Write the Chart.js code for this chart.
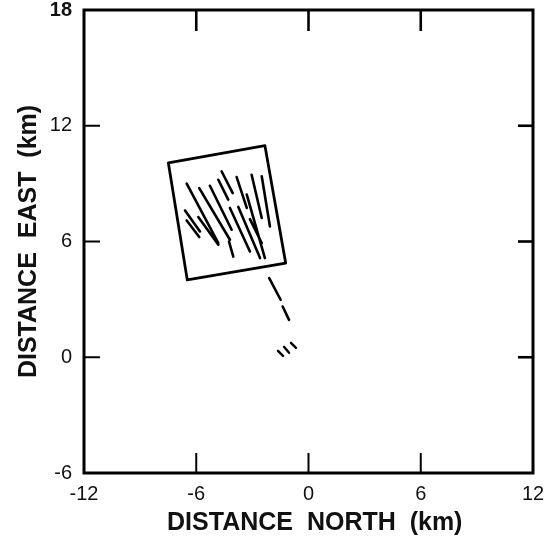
<!DOCTYPE html>
<html>
<head>
<meta charset="utf-8">
<script src="https://cdn.jsdelivr.net/npm/chart.js@4.4.1/dist/chart.umd.min.js"></script>
<style>
  html, body { margin: 0; padding: 0; background: #fff; }
  #wrap { width: 544px; height: 539px; }
</style>
</head>
<body>
<div id="wrap"><canvas id="c" width="544" height="539"></canvas></div>
<script>
// Axis ticks (km)
const xTickValues = [-12, -6, 0, 6, 12];
const yTickValues = [-6, 0, 6, 12, 18];
// Interior tick marks drawn on the frame
const innerTickX = [-6, 0, 6];
const innerTickY = [0, 6, 12];

// Outline of the mapped block (north, east), closed
const boxCorners = [
  [-7.49, 10.07], [-2.33, 10.97], [-1.22, 4.88], [-6.48, 4.01], [-7.49, 10.07]
];

// Lineations inside the block: [x1, y1, x2, y2]
const strokeSegments = [
  [-6.51, 9.00, -4.82, 5.92],
  [-5.84, 8.77, -4.20, 6.09],
  [-5.27, 8.89, -4.11, 6.61],
  [-4.82, 9.20, -4.29, 8.17],
  [-4.64, 9.63, -4.05, 8.51],
  [-3.84, 9.34, -3.30, 7.74],
  [-3.04, 9.46, -2.50, 7.22],
  [-2.50, 9.38, -2.06, 6.78],
  [-6.60, 7.61, -5.80, 6.52],
  [-6.51, 7.09, -5.84, 6.23],
  [-5.89, 7.27, -4.82, 5.83],
  [-4.20, 7.74, -3.13, 5.48],
  [-3.75, 7.79, -2.59, 5.14],
  [-3.30, 8.43, -2.33, 5.14],
  [-3.13, 7.16, -2.50, 5.92],
  [-4.25, 6.00, -4.02, 5.22]
];

// Dashed track south of the block
const trackSegments = [
  [-2.10, 4.10, -1.49, 2.98],
  [-1.38, 2.63, -1.04, 1.94]
];

// Short marks near the origin
const originMarks = [
  [-1.63, 0.33, -1.36, 0.07],
  [-1.31, 0.54, -1.04, 0.23],
  [-0.94, 0.75, -0.67, 0.49]
];

function segmentsToPoints(segs) {
  const pts = [];
  segs.forEach(s => {
    pts.push({ x: s[0], y: s[1] }, { x: s[2], y: s[3] }, { x: NaN, y: NaN });
  });
  return pts;
}

const lineStyle = {
  showLine: true,
  borderColor: '#000',
  pointRadius: 0,
  pointHoverRadius: 0,
  spanGaps: false,
  tension: 0,
  borderCapStyle: 'round',
  borderJoinStyle: 'round'
};

const FONT = "'Liberation Sans', Arial, Helvetica, sans-serif";

const framePlugin = {
  id: 'frame',
  afterDatasetsDraw(chart) {
    const { ctx, chartArea: a, scales } = chart;
    const xs = scales.x, ys = scales.y;
    ctx.save();
    ctx.strokeStyle = '#000';
    ctx.lineCap = 'butt';
    ctx.lineWidth = 3;
    ctx.strokeRect(a.left, a.top, a.right - a.left, a.bottom - a.top);
    const seg = (x1, y1, x2, y2, w) => {
      ctx.lineWidth = w;
      ctx.beginPath(); ctx.moveTo(x1, y1); ctx.lineTo(x2, y2); ctx.stroke();
    };
    innerTickX.forEach(v => {
      const px = xs.getPixelForValue(v);
      seg(px, a.bottom, px, a.bottom - 20, 2);
      seg(px, a.top, px, a.top + 21, 2.6);
    });
    innerTickY.forEach(v => {
      const py = ys.getPixelForValue(v);
      seg(a.left, py, a.left + 16, py, 2);
      seg(a.right, py, a.right - 15, py, 2.6);
    });
    ctx.restore();
  }
};

new Chart(document.getElementById('c'), {
  type: 'scatter',
  data: {
    datasets: [
      Object.assign({ label: 'block', data: boxCorners.map(p => ({ x: p[0], y: p[1] })), borderWidth: 2.8 }, lineStyle),
      Object.assign({ label: 'lineations', data: segmentsToPoints(strokeSegments), borderWidth: 2.6 }, lineStyle),
      Object.assign({ label: 'track', data: segmentsToPoints(trackSegments), borderWidth: 2.6 }, lineStyle),
      Object.assign({ label: 'origin', data: segmentsToPoints(originMarks), borderWidth: 2.4 }, lineStyle)
    ]
  },
  options: {
    responsive: false,
    animation: false,
    devicePixelRatio: 1,
    layout: { padding: { top: 10, right: 11, left: 0, bottom: 0 } },
    plugins: { legend: { display: false }, tooltip: { enabled: false } },
    scales: {
      x: {
        type: 'linear',
        min: -12, max: 12,
        afterBuildTicks: s => { s.ticks = xTickValues.map(v => ({ value: v })); },
        afterFit: s => { s.height = 66; s.paddingLeft = 0; s.paddingRight = 0; },
        grid: { display: false, drawTicks: false },
        border: { display: false },
        ticks: {
          padding: 9,
          color: '#111',
          font: { family: FONT, size: 20 },
          maxRotation: 0,
          autoSkip: false
        },
        title: {
          display: true,
          text: '\u2002DISTANCE  NORTH  (km)',
          color: '#111',
          font: { family: FONT, size: 25, weight: 'bold' },
          padding: { top: 0, bottom: 1 }
        }
      },
      y: {
        type: 'linear',
        min: -6, max: 18,
        afterBuildTicks: s => { s.ticks = yTickValues.map(v => ({ value: v })); },
        afterFit: s => { s.width = 84; s.paddingTop = 0; s.paddingBottom = 0; },
        grid: { display: false, drawTicks: false },
        border: { display: false },
        ticks: {
          padding: 12,
          color: '#111',
          font: ctx => ({ family: FONT, size: 20, weight: (ctx.tick && ctx.tick.value === 18) ? 'bold' : 'normal' }),
          autoSkip: false
        },
        title: {
          display: true,
          text: 'DISTANCE  EAST  (km)',
          color: '#111',
          font: { family: FONT, size: 25, weight: 'bold' },
          padding: { top: 14, bottom: 0 }
        }
      }
    }
  },
  plugins: [framePlugin]
});
</script>
</body>
</html>
